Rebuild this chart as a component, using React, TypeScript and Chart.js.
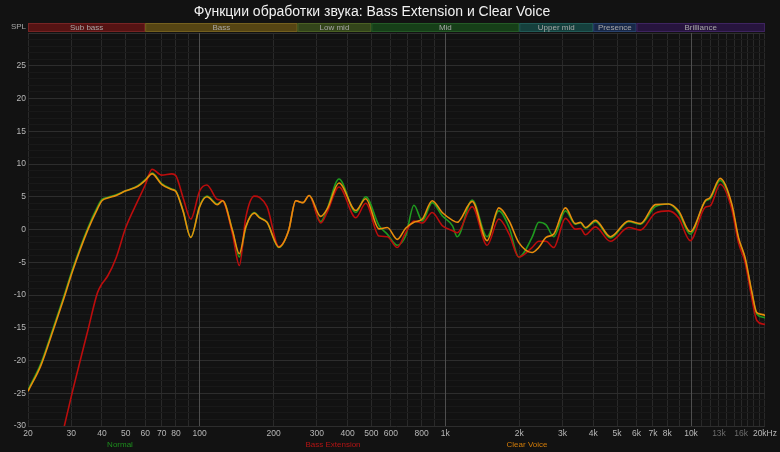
import React, { useEffect, useRef } from "react";
import { Chart, registerables } from "chart.js";

Chart.register(...registerables);

const title = "Функции обработки звука: Bass Extension и Clear Voice";

const freqs = [20, 22.6, 25.2, 28, 30.4, 35, 38.4, 40, 42.2, 45.7, 50, 56, 60, 64, 70, 77, 80, 85.5, 92, 100, 107, 118, 124, 136, 145, 154, 167, 175, 188, 210, 230, 246, 263, 279, 311, 330, 369, 432, 474, 537, 580, 637, 689, 745, 806, 884, 971, 1070, 1117, 1286, 1479, 1651, 1818, 1991, 2254, 2400, 2570, 2762, 3082, 3384, 3550, 3716, 4083, 4697, 5572, 6221, 7160, 8107, 8896, 9929, 11425, 11970, 13150, 14654, 15600, 16600, 17660, 18530, 19720, 20000];

const normal = [-24.5, -20.4, -15.3, -10.2, -6.0, 0.2, 3.5, 4.6, 4.9, 5.3, 5.9, 6.7, 7.6, 8.6, 7.0, 6.2, 5.9, 2.9, -1.2, 3.6, 5.1, 3.9, 4.4, -0.2, -4.2, 0.3, 2.6, 1.9, 1.1, -2.75, -0.2, 4.4, 4.1, 5.2, 1.2, 3.1, 7.7, 2.6, 5.0, 0.6, -0.7, -2.4, -1.0, 3.7, 1.3, 4.1, 2.1, 0.56, -1.1, 4.5, -1.1, 2.85, 0.3, -4.2, -1.2, 1.1, 0.7, -1.1, 2.85, 0.8, 1.0, 0.2, 1.2, -1.3, 1.2, 0.8, 3.5, 3.9, 2.6, -0.7, 4.3, 4.7, 7.5, 3.6, -1.4, -4.5, -9.6, -12.9, -13.4, -13.5];

const bassExtension = [null, null, null, -30.3, -24.6, -15.5, -9.6, -8.3, -7.1, -4.3, 0.3, 4.4, 6.8, 9.2, 8.3, 8.5, 8.2, 4.9, 1.6, 5.9, 6.8, 4.6, 4.4, -0.7, -5.5, 1.8, 5.1, 4.9, 3.5, -2.6, -0.2, 4.4, 4.1, 5.2, 1.0, 2.6, 6.5, 1.8, 4.0, -1.0, -1.1, -2.75, -0.5, 1.3, 1.0, 2.6, 0.6, -0.2, -0.5, 3.5, -2.4, 1.6, -0.7, -4.2, -2.75, -1.8, -1.8, -2.75, 1.7, 0.05, 0.15, -0.8, 0.4, -1.8, 0.3, -0.1, 2.5, 2.85, 1.8, -1.7, 3.4, 3.6, 6.9, 3.1, -2.0, -5.0, -10.4, -13.9, -14.45, -14.5];

const clearVoice = [-24.7, -20.7, -15.6, -10.5, -6.3, -0.1, 3.2, 4.4, 4.8, 5.2, 5.9, 6.6, 7.5, 8.5, 6.9, 6.1, 5.8, 2.85, -1.2, 3.5, 5.0, 3.8, 4.4, -0.2, -3.7, 0.4, 2.5, 1.8, 1.1, -2.7, -0.2, 4.4, 4.1, 5.2, 2.0, 3.1, 7.1, 2.9, 4.7, 0.1, 0.3, -1.5, 0.2, 1.1, 1.6, 4.4, 2.6, 1.4, 1.1, 4.3, -1.7, 3.3, 1.3, -2.0, -3.5, -2.75, -1.2, -0.7, 3.3, 0.9, 1.1, 0.3, 1.4, -1.1, 1.3, 0.9, 3.8, 3.9, 2.85, -0.35, 4.4, 4.9, 7.8, 3.9, -1.2, -4.3, -9.4, -12.7, -13.0, -13.2];

const gridFreqs = [20, 30, 40, 50, 60, 70, 80, 90, 100, 200, 300, 400, 500, 600, 700, 800, 900, 1000, 2000, 3000, 4000, 5000, 6000, 7000, 8000, 9000, 10000, 11000, 12000, 13000, 14000, 15000, 16000, 17000, 18000, 19000, 20000];
const tickFreqs = [20, 30, 40, 50, 60, 70, 80, 100, 200, 300, 400, 500, 600, 800, 1000, 2000, 3000, 4000, 5000, 6000, 7000, 8000, 10000, 13000, 16000, 20000];
const tickLabels = ["20", "30", "40", "50", "60", "70", "80", "100", "200", "300", "400", "500", "600", "800", "1k", "2k", "3k", "4k", "5k", "6k", "7k", "8k", "10k", "13k", "16k", "20kHz"];
const dimTicks = [13000, 16000];
const brightGrid = [100, 1000, 10000];

const bandNames = ["Sub bass", "Bass", "Low mid", "Mid", "Upper mid", "Presence", "Brilliance"];
const bandStarts = [20, 60, 250, 500, 2000, 4000, 6000];
const bandEnds = [60, 250, 500, 2000, 4000, 6000, 20000];
const bandFills = ["#561313", "#564513", "#33451a", "#163f18", "#15403d", "#182848", "#27143e"];
const bandStrokes = ["#772424", "#74601f", "#4a6024", "#245a26", "#215a56", "#2a426c", "#3e2460"];

const seriesNames = ["Normal", "Bass Extension", "Clear Voice"];
const seriesColors = ["#1f9a1f", "#bb0d0d", "#e88d0c"];
const legendColors = ["#1d8e1d", "#b41414", "#d47d08"];
const legendX = [120, 333, 527];

const FONT = '"Liberation Sans", Arial, sans-serif';

const overlay = {
  id: "overlay",
  beforeDraw(chart: any) {
    const ctx = chart.ctx;
    ctx.save();
    ctx.fillStyle = "#121212";
    ctx.fillRect(0, 0, chart.width, chart.height);
    ctx.restore();
  },
  beforeDatasetsDraw(chart: any) {
    const ctx = chart.ctx;
    const xs = chart.scales.x;
    const a = chart.chartArea;
    ctx.save();
    ctx.strokeStyle = "#4e4e4e";
    ctx.lineWidth = 1;
    for (const f of brightGrid) {
      const x = Math.round(xs.getPixelForValue(f) - 0.5) + 0.5;
      ctx.beginPath();
      ctx.moveTo(x, a.top);
      ctx.lineTo(x, a.bottom);
      ctx.stroke();
    }
    ctx.restore();
  },
  afterDraw(chart: any) {
    const ctx = chart.ctx;
    const xs = chart.scales.x;
    ctx.save();
    ctx.fillStyle = "#f2f2f2";
    ctx.font = "14px " + FONT;
    ctx.textAlign = "center";
    ctx.textBaseline = "middle";
    ctx.fillText(title, 372, 12);

    ctx.font = "8px " + FONT;
    ctx.fillStyle = "#a8a8a8";
    ctx.textAlign = "right";
    ctx.fillText("SPL", 26, 27);

    for (let i = 0; i < bandNames.length; i++) {
      const x0 = xs.getPixelForValue(bandStarts[i]);
      const x1 = xs.getPixelForValue(bandEnds[i]);
      ctx.fillStyle = bandFills[i];
      ctx.fillRect(x0, 23, x1 - x0, 9);
      ctx.strokeStyle = bandStrokes[i];
      ctx.lineWidth = 1;
      ctx.strokeRect(x0 + 0.5, 23.5, x1 - x0 - 1, 8);
      ctx.fillStyle = "#a8a8a8";
      ctx.textAlign = "center";
      ctx.font = "8px " + FONT;
      ctx.fillText(bandNames[i], (x0 + x1) / 2, 28);
    }

    ctx.font = "8px " + FONT;
    ctx.textAlign = "center";
    for (let i = 0; i < seriesNames.length; i++) {
      ctx.fillStyle = legendColors[i];
      ctx.fillText(seriesNames[i], legendX[i], 445);
    }
    ctx.restore();
  },
};

export default function App() {
  const ref = useRef<HTMLCanvasElement>(null);
  useEffect(() => {
    if (!ref.current) return;
    const series = [normal, bassExtension, clearVoice];
    const chart = new Chart(ref.current, {
      type: "line",
      data: {
        datasets: series.map((vals, i) => ({
          label: seriesNames[i],
          data: freqs.map((f, j) => ({ x: f, y: vals[j] })),
          borderColor: seriesColors[i],
          borderWidth: 1.6,
          pointRadius: 0,
          fill: false,
          cubicInterpolationMode: "monotone" as const,
          order: 3 - i,
        })),
      },
      options: {
        animation: false,
        responsive: false,
        devicePixelRatio: 1,
        events: [],
        layout: { padding: { top: 33, right: 14, left: 0, bottom: 0 } },
        plugins: { legend: { display: false }, title: { display: false }, tooltip: { enabled: false } },
        scales: {
          x: {
            type: "logarithmic",
            min: 20,
            max: 20000,
            afterBuildTicks: (scale: any) => {
              scale.ticks = gridFreqs.map((v) => ({ value: v }));
            },
            afterFit: (scale: any) => {
              scale.height = 26;
            },
            border: { display: false },
            grid: {
              drawTicks: false,
              lineWidth: 1,
              color: (c: any) => (brightGrid.includes(c.tick?.value) ? "#4e4e4e" : "#292929"),
            },
            ticks: {
              autoSkip: false,
              maxRotation: 0,
              padding: 3,
              font: { family: FONT, size: 8.5 },
              color: (c: any) => (dimTicks.includes(c.tick?.value) ? "#6c6c6c" : "#b8b8b8"),
              callback: (v: any) => {
                const k = tickFreqs.indexOf(Number(v));
                return k >= 0 ? tickLabels[k] : "";
              },
            },
          },
          y: {
            type: "linear",
            min: -30,
            max: 30,
            afterBuildTicks: (scale: any) => {
              const t = [];
              for (let v = -30; v <= 30; v++) t.push({ value: v });
              scale.ticks = t;
            },
            afterFit: (scale: any) => {
              scale.width = 28;
            },
            border: { display: false },
            grid: {
              drawTicks: false,
              lineWidth: 1,
              color: (c: any) => (c.tick && c.tick.value % 5 === 0 ? "#2d2d2d" : "#191919"),
            },
            ticks: {
              autoSkip: false,
              padding: 2,
              font: { family: FONT, size: 8.5 },
              color: "#b8b8b8",
              callback: (v: any) => (Number(v) % 5 === 0 && Number(v) !== 30 ? String(v) : ""),
            },
          },
        },
      },
      plugins: [overlay],
    });
    return () => chart.destroy();
  }, []);
  return (
    <div style={{ position: "fixed", left: 0, top: 0, width: 780, height: 452, background: "#121212" }}>
      <canvas ref={ref} width={780} height={452} style={{ display: "block" }} />
    </div>
  );
}
